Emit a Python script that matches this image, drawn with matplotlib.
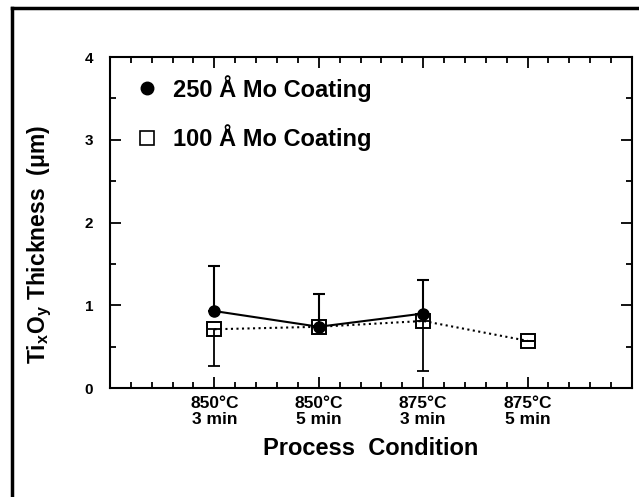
import matplotlib
matplotlib.use("Agg")
import matplotlib.pyplot as plt
from matplotlib.lines import Line2D
from matplotlib.ticker import MultipleLocator

plt.rcParams['font.family'] = ['Liberation Sans', 'DejaVu Sans']
plt.rcParams['font.weight'] = 'bold'
plt.rcParams['mathtext.fontset'] = 'custom'
plt.rcParams['mathtext.rm'] = 'Liberation Sans:bold'
plt.rcParams['mathtext.it'] = 'Liberation Sans:bold'
plt.rcParams['mathtext.bf'] = 'Liberation Sans:bold'

# ---- data ----
conditions = ["850°C\n3 min", "850°C\n5 min", "875°C\n3 min", "875°C\n5 min"]
mo250_idx = [0, 1, 2]
mo250 = [0.93, 0.74, 0.90]
mo250_err_up = [0.55, 0.39, 0.41]
mo100_idx = [0, 1, 2, 3]
mo100 = [0.71, 0.74, 0.81, 0.57]
mo100_err_low = [0.45, 0.0, 0.60, 0.0]
label250 = "250 Å Mo Coating"
label100 = "100 Å Mo Coating"

fig = plt.figure(figsize=(6.39, 4.97), dpi=100)
ax = fig.add_axes([0.1721, 0.2193, 0.989 - 0.1721, 0.8853 - 0.2193])

# outer frame (top and left only, rest cropped)
fig.add_artist(Line2D([12/639, 12/639], [0, 1 - 8/497], transform=fig.transFigure,
                      color='black', lw=2.5))
fig.add_artist(Line2D([12/639, 1], [1 - 8/497, 1 - 8/497], transform=fig.transFigure,
                      color='black', lw=2.5))

# 250 A series
ax.errorbar(mo250_idx, mo250, yerr=[[0]*len(mo250), mo250_err_up], fmt='-', color='black',
            lw=1.5, elinewidth=1.5, capsize=4, capthick=1.5, marker='o', ms=8,
            mfc='black', mec='black', zorder=3)
# 100 A series
ax.errorbar(mo100_idx, mo100, yerr=[mo100_err_low, [0]*len(mo100)], fmt='none', ecolor='black',
            elinewidth=1.3, capsize=4, capthick=1.3, zorder=2)
ax.plot(mo100_idx, mo100, linestyle=':', color='black', lw=1.5, marker='s', ms=10,
        mfc='none', mec='black', mew=1.4, zorder=2)

ax.set_xlim(-1, 4)
ax.set_ylim(0, 4)
ax.set_xticks(range(len(conditions)))
ax.set_xticklabels(conditions, fontsize=12.5, fontweight='bold', linespacing=1.05)
ax.xaxis.set_minor_locator(MultipleLocator(0.2))
ax.set_yticks([0, 1, 2, 3, 4])
ax.set_yticklabels(['0', '1', '2', '3', '4'], fontsize=11, fontweight='bold')
ax.yaxis.set_minor_locator(MultipleLocator(0.5))
ax.tick_params(which='both', direction='in', top=True, right=True, width=1.3)
ax.tick_params(which='major', length=8)
ax.tick_params(which='minor', length=4)
ax.tick_params(axis='y', which='major', pad=12)
ax.tick_params(axis='x', which='major', pad=6)
for s in ax.spines.values():
    s.set_linewidth(1.5)

ax.set_xlabel("Process  Condition", fontsize=17, fontweight='bold', labelpad=7)
ax.set_ylabel(r"Ti$_{x}$O$_{y}$ Thickness  (μm)", fontsize=16.5, fontweight='bold')
ax.yaxis.set_label_coords(-0.108, 0.435)

handles = [Line2D([], [], linestyle='none', marker='o', ms=9, color='black'),
           Line2D([], [], linestyle='none', marker='s', ms=10, mfc='none', mec='black', mew=1.2)]
leg = ax.legend(handles, [label250, label100], loc='upper left', bbox_to_anchor=(0.003, 1.018),
                frameon=False, prop={'size': 17, 'weight': 'bold'}, handlelength=1.0,
                handletextpad=0.6, labelspacing=0.95, borderaxespad=0.6)

fig.savefig("out.png", dpi=100)
